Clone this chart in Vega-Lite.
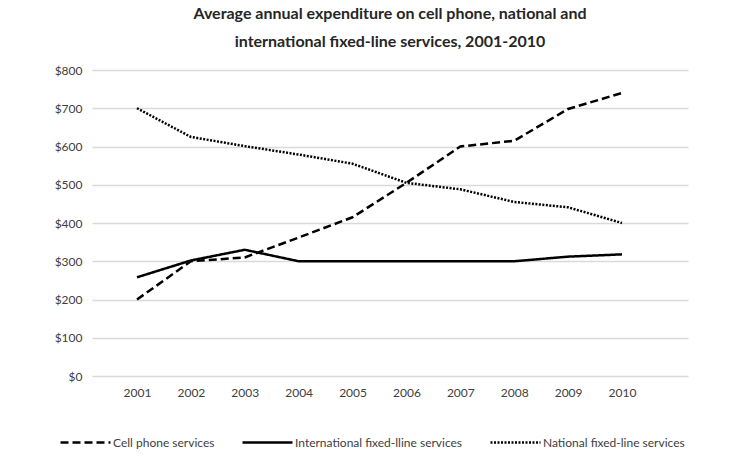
{
  "$schema": "https://vega.github.io/schema/vega-lite/v6.json",
  "width": 596,
  "height": 306,
  "autosize": {"type": "none"},
  "padding": {"left": 92, "top": 70, "right": 62, "bottom": 89},
  "background": "white",
  "title": {
    "text": ["Average annual expenditure on cell phone, national and", "international fixed-line services, 2001-2010"],
    "anchor": "middle",
    "frame": "group",
    "font": "Lato",
    "fontSize": 16,
    "fontWeight": "bold",
    "color": "#262626",
    "lineHeight": 28,
    "offset": 14
  },
  "config": {
    "view": {"stroke": null},
    "font": "Lato"
  },
  "data": {
    "values": [
      {"year": 2001, "series": "Cell phone services", "value": 200},
      {"year": 2002, "series": "Cell phone services", "value": 300},
      {"year": 2003, "series": "Cell phone services", "value": 310},
      {"year": 2004, "series": "Cell phone services", "value": 362},
      {"year": 2005, "series": "Cell phone services", "value": 415},
      {"year": 2006, "series": "Cell phone services", "value": 505},
      {"year": 2007, "series": "Cell phone services", "value": 600},
      {"year": 2008, "series": "Cell phone services", "value": 615},
      {"year": 2009, "series": "Cell phone services", "value": 698},
      {"year": 2010, "series": "Cell phone services", "value": 740},
      {"year": 2001, "series": "International fixed-lline services", "value": 258},
      {"year": 2002, "series": "International fixed-lline services", "value": 302},
      {"year": 2003, "series": "International fixed-lline services", "value": 330},
      {"year": 2004, "series": "International fixed-lline services", "value": 300},
      {"year": 2005, "series": "International fixed-lline services", "value": 300},
      {"year": 2006, "series": "International fixed-lline services", "value": 300},
      {"year": 2007, "series": "International fixed-lline services", "value": 300},
      {"year": 2008, "series": "International fixed-lline services", "value": 300},
      {"year": 2009, "series": "International fixed-lline services", "value": 312},
      {"year": 2010, "series": "International fixed-lline services", "value": 318},
      {"year": 2001, "series": "National fixed-line services", "value": 700},
      {"year": 2002, "series": "National fixed-line services", "value": 625},
      {"year": 2003, "series": "National fixed-line services", "value": 601},
      {"year": 2004, "series": "National fixed-line services", "value": 579},
      {"year": 2005, "series": "National fixed-line services", "value": 555},
      {"year": 2006, "series": "National fixed-line services", "value": 505},
      {"year": 2007, "series": "National fixed-line services", "value": 488},
      {"year": 2008, "series": "National fixed-line services", "value": 455},
      {"year": 2009, "series": "National fixed-line services", "value": 441},
      {"year": 2010, "series": "National fixed-line services", "value": 400}
    ]
  },
  "mark": {"type": "line", "color": "black", "strokeWidth": 2.5, "strokeCap": "butt"},
  "encoding": {
    "x": {
      "field": "year",
      "type": "quantitative",
      "scale": {"domain": [2000.165, 2011.225], "nice": false, "zero": false},
      "axis": {
        "title": null,
        "values": [2001, 2002, 2003, 2004, 2005, 2006, 2007, 2008, 2009, 2010],
        "format": "d",
        "grid": false,
        "domain": false,
        "ticks": false,
        "labelFont": "Lato",
        "labelFontSize": 12,
        "labelColor": "#404040",
        "labelPadding": 11,
        "labelFlush": false,
        "labelOverlap": false
      }
    },
    "y": {
      "field": "value",
      "type": "quantitative",
      "scale": {"domain": [0, 800], "nice": false},
      "axis": {
        "title": null,
        "values": [0, 100, 200, 300, 400, 500, 600, 700, 800],
        "format": "$.0f",
        "domain": false,
        "ticks": false,
        "grid": true,
        "gridColor": "#d9d9d9",
        "gridWidth": 1.5,
        "labelFont": "Lato",
        "labelFontSize": 12,
        "labelColor": "#404040",
        "labelPadding": 10
      }
    },
    "strokeDash": {
      "field": "series",
      "type": "nominal",
      "scale": {
        "domain": ["Cell phone services", "International fixed-lline services", "National fixed-line services"],
        "range": [[8, 4], [1, 0], [2, 1.5]]
      },
      "legend": {
        "title": null,
        "orient": "none",
        "legendX": -33,
        "legendY": 346,
        "direction": "horizontal",
        "gridAlign": "none",
        "symbolType": "stroke",
        "symbolSize": 2500,
        "symbolStrokeWidth": 2.5,
        "symbolStrokeColor": "black",
        "labelFont": "Lato",
        "labelFontSize": 12,
        "labelColor": "#404040",
        "labelOffset": 1,
        "labelLimit": 400,
        "columnPadding": 22
      }
    }
  }
}
